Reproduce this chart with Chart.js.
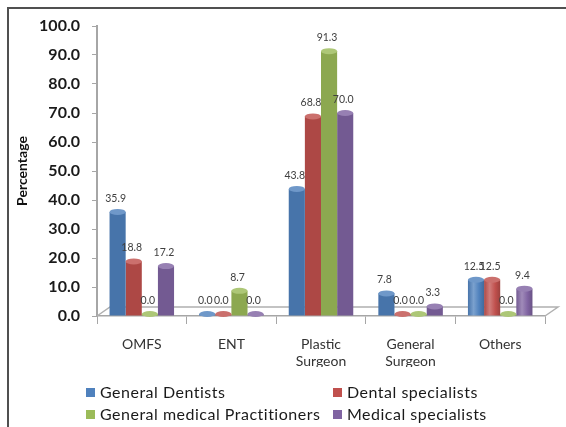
<!DOCTYPE html>
<html>
<head>
<meta charset="utf-8">
<script src="https://cdn.jsdelivr.net/npm/chart.js@4.4.0/dist/chart.umd.min.js"></script>
<style>
  html, body { margin: 0; padding: 0; background: #fff; }
  #wrap { position: relative; width: 566px; height: 427px; }
</style>
</head>
<body>
<div id="wrap"><canvas id="surgeryChart" width="566" height="427"></canvas></div>
<script>
const categories = ['OMFS', 'ENT', ['Plastic', 'Surgeon'], ['General', 'Surgeon'], 'Others'];
const generalDentists = [35.9, 0.0, 43.8, 7.8, 12.5];
const dentalSpecialists = [18.8, 0.0, 68.8, 0.0, 12.5];
const generalPractitioners = [0.0, 8.7, 91.3, 0.0, 0.0];
const medicalSpecialists = [17.2, 0.0, 70.0, 3.3, 9.4];
const seriesNames = ['General Dentists', 'Dental specialists', 'General medical Practitioners', 'Medical specialists'];
const seriesColors = ['#4F81BD', '#C0504D', '#9BBB59', '#8064A2'];
const yTicks = [0, 10, 20, 30, 40, 50, 60, 70, 80, 90, 100];

const FONT = 'Lato, "Open Sans", sans-serif';

// lighten / darken a hex colour by a factor
function shade(hex, f) {
    let r = parseInt(hex.slice(1, 3), 16), g = parseInt(hex.slice(3, 5), 16), b = parseInt(hex.slice(5, 7), 16);
    const mix = c => f >= 0 ? Math.round(c + (255 - c) * f) : Math.round(c * (1 + f));
    return `rgb(${mix(r)}, ${mix(g)}, ${mix(b)})`;
}

// cylinder look: horizontal gradient on every bar, light cap on top
const cylinderShading = {
    id: 'cylinderShading',
    beforeDatasetsDraw(chart) {
        const ctx = chart.ctx;
        chart.data.datasets.forEach((ds, i) => {
            const base = seriesColors[i];
            chart.getDatasetMeta(i).data.forEach(bar => {
                const { x, width } = bar.getProps(['x', 'width'], true);
                const grad = ctx.createLinearGradient(x - width / 2, 0, x + width / 2, 0);
                grad.addColorStop(0, shade(base, -0.1));
                grad.addColorStop(0.35, shade(base, 0.25));
                grad.addColorStop(0.7, base);
                grad.addColorStop(1, shade(base, -0.18));
                bar.options.backgroundColor = grad;
            });
        });
    },
    afterDatasetsDraw(chart) {
        const ctx = chart.ctx;
        ctx.save();
        chart.data.datasets.forEach((ds, i) => {
            const base = seriesColors[i];
            chart.getDatasetMeta(i).data.forEach(bar => {
                const { x, y, width } = bar.getProps(['x', 'y', 'width'], true);
                ctx.beginPath();
                ctx.ellipse(x, y, width / 2, 3, 0, 0, Math.PI * 2);
                ctx.fillStyle = shade(base, 0.18);
                ctx.fill();
            });
        });
        ctx.restore();
    }
};

// floor of the plot drawn in perspective
const floorPlane = {
    id: 'floorPlane',
    beforeDatasetsDraw(chart) {
        const { ctx, chartArea: a } = chart;
        const dx = 13, dy = -9;
        ctx.save();
        ctx.strokeStyle = '#b0b0b0';
        ctx.lineWidth = 1.5;
        ctx.beginPath();
        ctx.moveTo(a.left, a.bottom);
        ctx.lineTo(a.left + dx, a.bottom + dy);
        ctx.lineTo(a.right + dx, a.bottom + dy);
        ctx.lineTo(a.right, a.bottom);
        ctx.stroke();
        ctx.restore();
    }
};

// value labels over the bars
const valueLabels = {
    id: 'valueLabels',
    afterDatasetsDraw(chart) {
        const ctx = chart.ctx;
        ctx.save();
        ctx.font = `10.5px ${FONT}`;
        ctx.fillStyle = '#404040';
        ctx.textAlign = 'center';
        ctx.textBaseline = 'alphabetic';
        chart.data.datasets.forEach((ds, i) => {
            chart.getDatasetMeta(i).data.forEach((bar, j) => {
                const { x, y } = bar.getProps(['x', 'y'], true);
                ctx.fillText(ds.data[j].toFixed(1), x - 2, y - 10);
            });
        });
        ctx.restore();
    }
};

// two-column legend under the axis, plus the outer frame
const boxLegend = {
    id: 'boxLegend',
    afterDraw(chart) {
        const ctx = chart.ctx;
        const cols = [86, 333], rows = [393, 415];
        ctx.save();
        ctx.font = `16px ${FONT}`;
        ctx.letterSpacing = '0.5px';
        ctx.textBaseline = 'middle';
        ctx.textAlign = 'left';
        seriesNames.forEach((name, i) => {
            const cx = cols[i % 2], cy = rows[Math.floor(i / 2)];
            ctx.fillStyle = seriesColors[i];
            ctx.fillRect(cx, cy - 5, 9, 9);
            ctx.fillStyle = '#1a1a1a';
            ctx.fillText(name, cx + 14, cy);
        });
        ctx.letterSpacing = '0px';
        ctx.strokeStyle = '#505050';
        ctx.lineWidth = 2;
        ctx.strokeRect(8, 8, 700, 700);
        ctx.restore();
    }
};

const ctx = document.getElementById('surgeryChart').getContext('2d');
const surgeryChart = new Chart(ctx, {
    type: 'bar',
    data: {
        labels: categories,
        datasets: [generalDentists, dentalSpecialists, generalPractitioners, medicalSpecialists].map((vals, i) => ({
            label: seriesNames[i],
            data: vals,
            backgroundColor: seriesColors[i],
            borderWidth: 0,
            minBarLength: 2,
            barPercentage: 1.0,
            categoryPercentage: 0.72
        }))
    },
    options: {
        responsive: false,
        animation: false,
        layout: { padding: { left: 10, top: 26, right: 21, bottom: 60 } },
        plugins: {
            legend: { display: false },
            tooltip: { enabled: false }
        },
        scales: {
            x: {
                afterFit: scale => { scale.height = 51; },
                grid: { offset: true, drawOnChartArea: false, tickLength: 8, color: '#a6a6a6' },
                border: { color: '#a6a6a6', width: 1.5 },
                ticks: {
                    autoSkip: false, maxRotation: 0, padding: 12,
                    color: '#333', font: { family: FONT, size: 14 }
                }
            },
            y: {
                min: 0,
                max: 100,
                afterFit: scale => { scale.width = 87; },
                afterBuildTicks: scale => { scale.ticks = yTicks.map(v => ({ value: v })); },
                grid: { drawOnChartArea: false, tickLength: 5, color: '#a6a6a6' },
                border: { color: '#a6a6a6', width: 2 },
                ticks: {
                    padding: 12, color: '#1a1a1a',
                    font: { family: FONT, size: 16, weight: 'bold' },
                    callback: v => v.toFixed(1)
                },
                title: {
                    display: true, text: 'Percentage', color: '#111',
                    font: { family: FONT, size: 14, weight: 'bold' }
                }
            }
        }
    },
    plugins: [floorPlane, cylinderShading, valueLabels, boxLegend]
});
</script>
</body>
</html>
